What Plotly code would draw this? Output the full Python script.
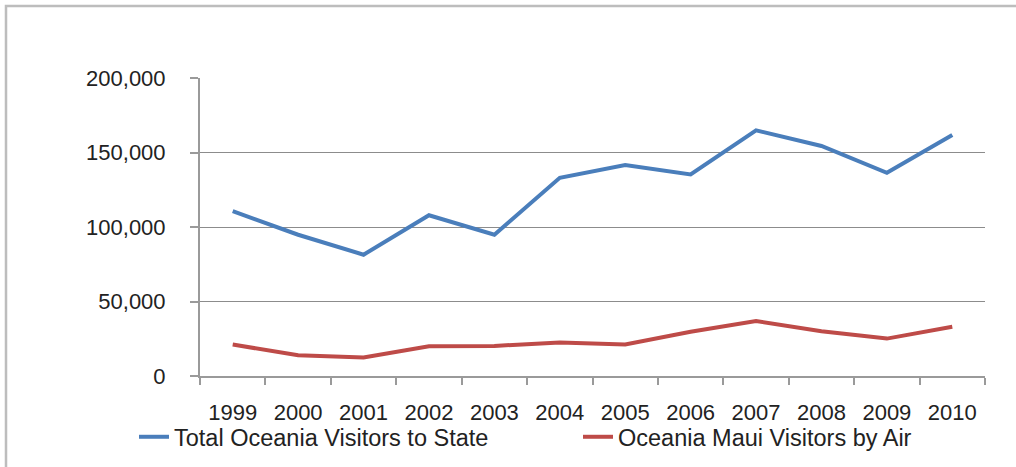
import plotly.graph_objects as go

years = ["1999", "2000", "2001", "2002", "2003", "2004", "2005", "2006", "2007", "2008", "2009", "2010"]
total_oceania = [110600, 94800, 81400, 107900, 94800, 133000, 141600, 135300, 164900, 154400, 136400, 161800]
maui_air = [21100, 13900, 12400, 20000, 20200, 22500, 21100, 29700, 36900, 30100, 25100, 33000]
series_names = ["Total Oceania Visitors to State", "Oceania Maui Visitors by Air"]
y_ticks = [0, 50000, 100000, 150000, 200000]

W, H = 1016, 467
L, R, T, B = 200, 31, 78, 91
pw, ph = W - L - R, H - T - B

FONT = "Liberation Sans, Arial, sans-serif"

fig = go.Figure()
fig.add_trace(go.Scatter(x=years, y=total_oceania, mode="lines", name=series_names[0],
                         line=dict(color="#4A7EBB", width=4)))
fig.add_trace(go.Scatter(x=years, y=maui_air, mode="lines", name=series_names[1],
                         line=dict(color="#BE4B48", width=4)))

def px_x(x):
    return (x - L) / pw

def px_y(y):
    return (H - B - y) / ph

fig.update_layout(
    width=W, height=H,
    margin=dict(l=L, r=R, t=T, b=B, pad=0, autoexpand=False),
    paper_bgcolor="white", plot_bgcolor="white",
    font=dict(family=FONT, size=22, color="#222222"),
    showlegend=True,
    legend=dict(orientation="h", x=px_x(134), y=px_y(437), xanchor="left", yanchor="middle",
                font=dict(family=FONT, size=23.5, color="#222222"),
                entrywidth=399, bgcolor="rgba(0,0,0,0)", borderwidth=0,
                tracegroupgap=0, itemwidth=30),
    xaxis=dict(type="category", range=[-0.5, 11.5], showgrid=False,
               showline=True, linecolor="#9a9a9a", linewidth=2,
               ticks="outside", tickson="boundaries", ticklen=7, tickcolor="#9a9a9a", tickwidth=2,
               ticklabelstandoff=16, tickfont=dict(size=22, color="#222222")),
    yaxis=dict(range=[0, 200000], tickvals=y_ticks, tickformat=",",
               showgrid=True, gridcolor="#8c8c8c", gridwidth=1.3,
               showline=True, linecolor="#9a9a9a", linewidth=2,
               ticks="outside", ticklen=8, tickcolor="#9a9a9a", tickwidth=2,
               ticklabelstandoff=20, zeroline=False, tickfont=dict(size=22, color="#222222")),
    shapes=[dict(type="rect", xref="paper", yref="paper",
                 x0=px_x(6), x1=px_x(1100), y0=px_y(600), y1=px_y(6),
                 line=dict(color="#bdbdbd", width=2.5), fillcolor="rgba(0,0,0,0)", layer="below")],
)

fig.write_html("out.html")
